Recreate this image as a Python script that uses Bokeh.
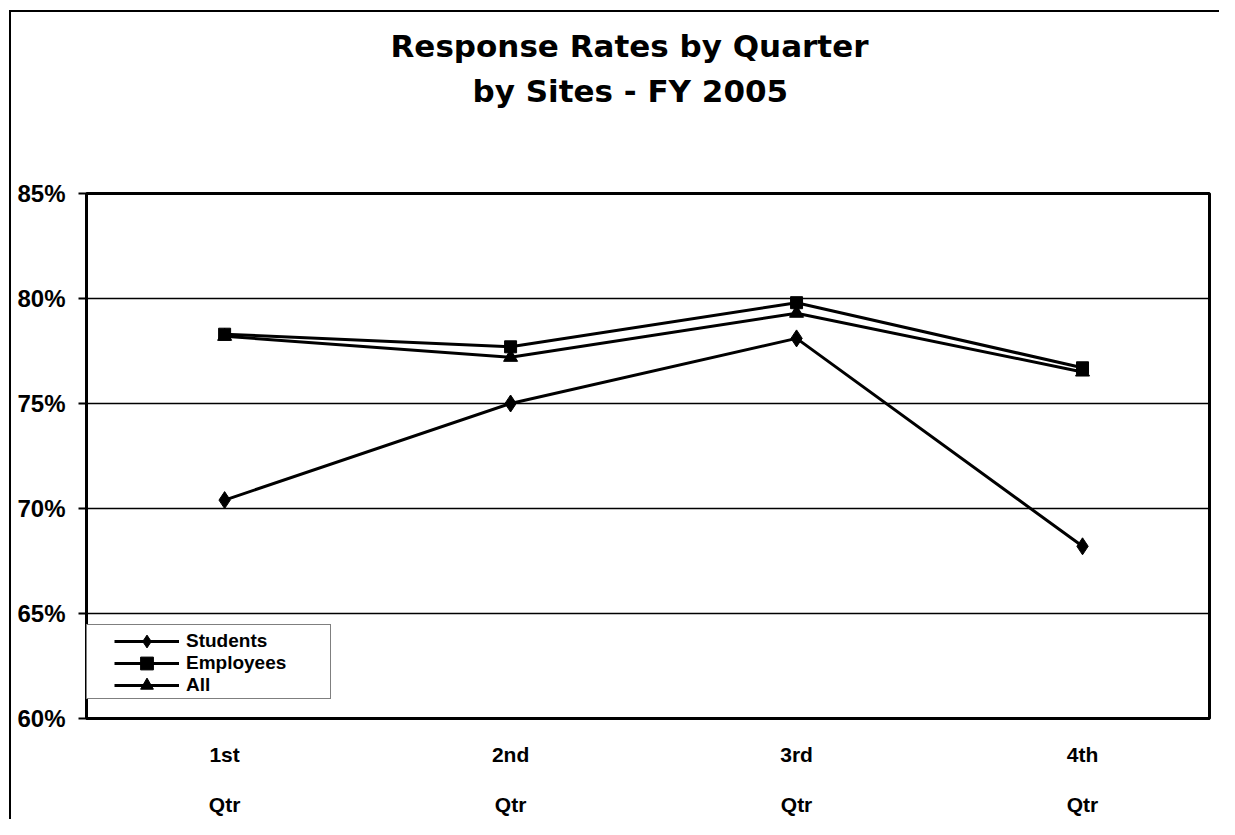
from bokeh.plotting import figure
from bokeh.models import (Range1d, FixedTicker, NumeralTickFormatter, LinearAxis,
                          Legend, LegendItem, Title)
from bokeh.embed import file_html
from bokeh.resources import INLINE

quarters = ["1st", "2nd", "3rd", "4th"]
quarter_sub = ["Qtr", "Qtr", "Qtr", "Qtr"]
students = [0.704, 0.750, 0.781, 0.682]
employees = [0.783, 0.777, 0.798, 0.767]
all_sites = [0.782, 0.772, 0.793, 0.765]
y_ticks = [0.60, 0.65, 0.70, 0.75, 0.80, 0.85]
title_lines = ["Response Rates by Quarter", "by Sites - FY 2005"]

xs = list(range(1, len(quarters) + 1))
FONT = "Liberation Sans"
TFONT = "DejaVu Sans"

p = figure(width=1219, height=819, output_backend="svg", toolbar_location=None,
           x_range=Range1d(0.517, 4.444), y_range=Range1d(0.60, 0.85),
           min_border_left=86, min_border_right=10, min_border_top=193,
           min_border_bottom=101, x_axis_location=None)
p.styles = {"background": "linear-gradient(black, black) 9px 10px / 2px 100% no-repeat, "
                          "linear-gradient(black, black) 9px 10px / 100% 2px no-repeat, white"}
p.background_fill_color = "white"
p.border_fill_color = None
p.outline_line_color = "black"
p.outline_line_width = 3

# y axis
p.yaxis.ticker = FixedTicker(ticks=y_ticks)
p.yaxis.formatter = NumeralTickFormatter(format="0%")
p.yaxis.major_label_text_font = FONT
p.yaxis.major_label_text_font_style = "bold"
p.yaxis.major_label_text_font_size = "24px"
p.yaxis.major_label_text_color = "black"
p.yaxis.major_tick_out = 8
p.yaxis.major_tick_in = 0
p.yaxis.major_tick_line_width = 2
p.yaxis.minor_tick_line_color = None
p.yaxis.axis_line_width = 3
p.yaxis.major_label_standoff = 13
p.ygrid.ticker = FixedTicker(ticks=y_ticks)
p.ygrid.grid_line_color = "black"
p.ygrid.grid_line_width = 1.5
p.xgrid.grid_line_color = None

# x axes (two rows of labels)
ax1 = LinearAxis(ticker=FixedTicker(ticks=xs),
                 major_label_overrides={x: q for x, q in zip(xs, quarters)})
ax2 = LinearAxis(ticker=FixedTicker(ticks=xs),
                 major_label_overrides={x: q for x, q in zip(xs, quarter_sub)})
for ax in (ax1, ax2):
    ax.major_label_text_font = FONT
    ax.major_label_text_font_style = "bold"
    ax.major_label_text_font_size = "21px"
    ax.major_label_text_color = "black"
    ax.major_tick_out = 0
    ax.major_tick_in = 0
    ax.minor_tick_line_color = None
    ax.major_tick_line_color = None
ax1.axis_line_width = 3
ax1.major_label_standoff = 24
ax2.axis_line_color = None
ax2.major_label_standoff = 24
p.add_layout(ax1, "below")
p.add_layout(ax2, "below")

series = [("Students", students, "diamond", 17),
          ("Employees", employees, "square", 12),
          ("All", all_sites, "triangle", 14)]
items = []
for name, vals, marker, size in series:
    r1 = p.line(xs, vals, line_color="black", line_width=3)
    r2 = p.scatter(xs, vals, marker=marker, size=size, fill_color="black",
                   line_color="black")
    items.append(LegendItem(label=name, renderers=[r1, r2]))

# legend frame (box only)
ghost = p.line(xs, students, line_alpha=0)
box = Legend(items=[LegendItem(label=" ", renderers=[ghost])], location=(0, 19),
             padding=5, margin=0, glyph_width=65, glyph_height=63, label_height=63,
             label_width=161, label_standoff=7, spacing=0,
             border_line_color="black", border_line_width=1.5,
             background_fill_color="white", background_fill_alpha=1)
p.add_layout(box, "center")

# one legend row per series, stacked 22px apart
for i, item in enumerate(items):
    row = Legend(items=[item], location=(28, 61 - 22 * i), padding=0, margin=0,
                 glyph_width=65, glyph_height=32, label_height=32, label_width=100,
                 label_standoff=7, spacing=0,
                 label_text_font=FONT, label_text_font_size="19px",
                 label_text_font_style="bold", label_text_color="black",
                 border_line_alpha=0, background_fill_alpha=0)
    p.add_layout(row, "center")

spacer = Title(text=" ", text_font_size="1px", standoff=82)
t2 = Title(text=title_lines[1], align="left", offset=386, standoff=0,
           text_font=TFONT, text_font_style="bold", text_font_size="31px",
           text_color="black")
t1 = Title(text=title_lines[0], align="left", offset=304, standoff=14,
           text_font=TFONT, text_font_style="bold", text_font_size="31px",
           text_color="black")
p.add_layout(spacer, "above")
p.add_layout(t2, "above")
p.add_layout(t1, "above")

open("out.html", "w").write(file_html(p, INLINE))
